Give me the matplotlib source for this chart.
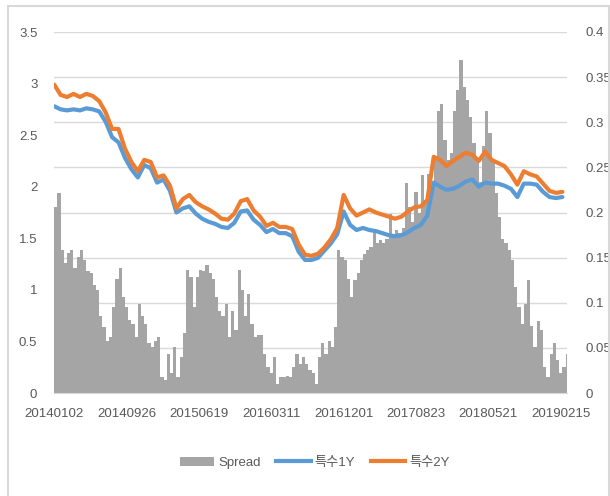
import numpy as np
import matplotlib.pyplot as plt
from matplotlib.patches import Rectangle, Patch
from matplotlib.lines import Line2D

plt.rcParams['font.family'] = ['Liberation Sans', 'Noto Sans CJK KR', 'DejaVu Sans']

# --- data ---
# spread, every 8th trading day from 20140102
spread = [0.206, 0.222, 0.158, 0.144, 0.155, 0.158, 0.139, 0.151, 0.158, 0.147,
          0.135, 0.133, 0.120, 0.114, 0.085, 0.073, 0.058, 0.062, 0.095, 0.126,
          0.139, 0.106, 0.095, 0.081, 0.077, 0.062, 0.099, 0.085, 0.077, 0.055,
          0.051, 0.058, 0.062, 0.018, 0.014, 0.043, 0.022, 0.051, 0.018, 0.040,
          0.066, 0.136, 0.129, 0.095, 0.129, 0.136, 0.135, 0.142, 0.133, 0.126,
          0.106, 0.091, 0.085, 0.099, 0.062, 0.091, 0.070, 0.136, 0.114, 0.085,
          0.110, 0.077, 0.062, 0.064, 0.064, 0.043, 0.029, 0.022, 0.040, 0.010,
          0.018, 0.018, 0.019, 0.018, 0.029, 0.043, 0.032, 0.040, 0.032, 0.025,
          0.022, 0.010, 0.040, 0.055, 0.043, 0.058, 0.051, 0.073, 0.158, 0.151,
          0.147, 0.126, 0.106, 0.125, 0.133, 0.147, 0.154, 0.158, 0.162, 0.181,
          0.166, 0.169, 0.166, 0.171, 0.198, 0.174, 0.181, 0.177, 0.183, 0.233,
          0.206, 0.189, 0.223, 0.200, 0.241, 0.214, 0.243, 0.225, 0.258, 0.313,
          0.320, 0.280, 0.258, 0.266, 0.313, 0.336, 0.369, 0.339, 0.325, 0.306,
          0.277, 0.258, 0.234, 0.274, 0.313, 0.288, 0.258, 0.222, 0.195, 0.171,
          0.166, 0.158, 0.147, 0.118, 0.095, 0.077, 0.099, 0.125, 0.074, 0.051,
          0.080, 0.070, 0.029, 0.018, 0.043, 0.055, 0.037, 0.022, 0.029, 0.043]

# yields, every 16th trading day
y1 = [2.78, 2.75, 2.74, 2.75, 2.74, 2.76, 2.75, 2.73, 2.63, 2.48,
      2.43, 2.28, 2.17, 2.09, 2.21, 2.18, 2.04, 2.07, 1.96, 1.75,
      1.79, 1.81, 1.74, 1.69, 1.66, 1.64, 1.61, 1.60, 1.65, 1.76,
      1.77, 1.68, 1.63, 1.56, 1.59, 1.55, 1.55, 1.52, 1.37, 1.29,
      1.29, 1.31, 1.38, 1.45, 1.54, 1.76, 1.63, 1.58, 1.60, 1.58,
      1.57, 1.55, 1.53, 1.52, 1.53, 1.56, 1.60, 1.63, 1.72, 2.04,
      2.00, 1.97, 1.98, 2.01, 2.05, 2.07, 2.00, 2.04, 2.03, 2.03,
      2.01, 1.98, 1.90, 2.03, 2.03, 2.02, 1.95, 1.90, 1.89, 1.90]
y2 = [2.99, 2.89, 2.87, 2.90, 2.87, 2.90, 2.88, 2.83, 2.72, 2.56,
      2.56, 2.37, 2.24, 2.15, 2.26, 2.24, 2.09, 2.11, 2.01, 1.79,
      1.88, 1.92, 1.85, 1.81, 1.78, 1.74, 1.69, 1.68, 1.74, 1.86,
      1.88, 1.77, 1.71, 1.62, 1.65, 1.61, 1.61, 1.59, 1.44, 1.34,
      1.33, 1.35, 1.41, 1.49, 1.60, 1.92, 1.79, 1.72, 1.75, 1.78,
      1.75, 1.73, 1.71, 1.69, 1.71, 1.76, 1.80, 1.81, 1.87, 2.29,
      2.26, 2.20, 2.25, 2.29, 2.33, 2.31, 2.25, 2.34, 2.26, 2.23,
      2.20, 2.12, 2.02, 2.15, 2.12, 2.10, 2.03, 1.96, 1.94, 1.95]

date_labels = ['20140102', '20140926', '20150619', '20160311',
               '20161201', '20170823', '20180521', '20190215']
n_days = 1276  # trading days on the axis

days_spread = np.arange(len(spread)) * 8
days_yield = np.arange(len(y1)) * 16

gray = '#A5A5A5'
blue = '#5B9BD5'
orange = '#ED7D31'
txt = '#595959'

fig = plt.figure(figsize=(6.1, 4.96), dpi=100)
fig.patches.append(Rectangle((8/610, -0.01), 601/610, 1 - 6/496 + 0.01,
                             transform=fig.transFigure, fill=False,
                             edgecolor='#d9d9d9', lw=1.5))

ax = fig.add_axes([54/610, 1 - 393/496, 513/610, 361/496])
# spread columns (secondary axis, right)
ax.bar(days_spread, spread, width=8, align='edge', color=gray, linewidth=0)
ax.set_ylim(0, 0.4)
ax.set_yticks(np.arange(0, 0.401, 0.05))
ax.set_yticklabels(['0', '0.05', '0.1', '0.15', '0.2', '0.25', '0.3', '0.35', '0.4'])
ax.grid(axis='y', color='#d9d9d9', lw=1)
ax.set_axisbelow(True)
ax.set_xlim(-0.5, n_days - 0.5)
ax.set_xticks(np.arange(len(date_labels)) * 180)
ax.set_xticklabels(date_labels)

# yields (primary axis, left) drawn on top
ax2 = ax.twinx()
ax2.plot(days_yield, y1, color=blue, lw=3, solid_capstyle='round')
ax2.plot(days_yield, y2, color=orange, lw=3, solid_capstyle='round')
ax2.set_ylim(0, 3.5)
ax2.set_yticks(np.arange(0, 3.51, 0.5))
ax2.set_yticklabels(['0', '0.5', '1', '1.5', '2', '2.5', '3', '3.5'])
ax2.yaxis.tick_left()
ax.yaxis.tick_right()

for a in (ax, ax2):
    for s in a.spines.values():
        s.set_visible(False)
    a.tick_params(length=0, labelsize=9.5, labelcolor=txt)
ax.spines['bottom'].set_visible(True)
ax.spines['bottom'].set_color('#d9d9d9')
ax.tick_params(axis='y', pad=13)
ax.tick_params(axis='x', pad=11)
ax2.tick_params(axis='y', pad=12)

handles = [Patch(facecolor=gray, edgecolor='none'),
           Line2D([], [], color=blue, lw=3),
           Line2D([], [], color=orange, lw=3)]
fig.legend(handles, ['Spread', '특수1Y', '특수2Y'], loc='center',
           bbox_to_anchor=(0.516, 0.067), ncol=3, frameon=False,
           fontsize=9.5, labelcolor=txt, handlelength=2.6, columnspacing=1.2,
           handletextpad=0.3)

fig.savefig('out.png', dpi=100)
